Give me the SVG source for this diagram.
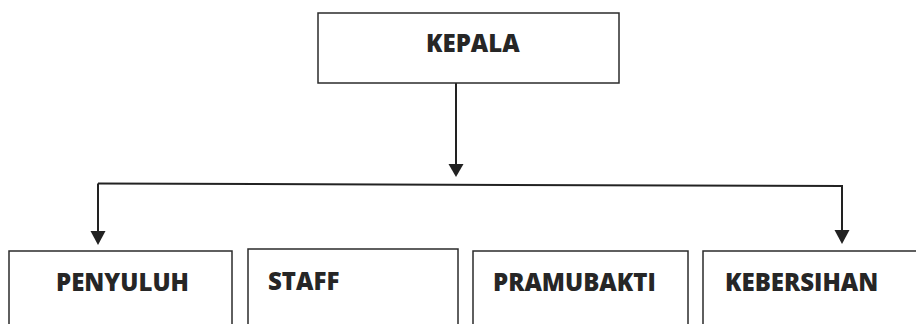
<svg xmlns="http://www.w3.org/2000/svg" width="916" height="324" viewBox="0 0 916 324">
<defs>
<style>
.box{fill:#fff;stroke:#2b2b2b;stroke-width:1.5}
.lbl{font-family:"Open Sans","Liberation Sans",sans-serif;font-weight:800;font-size:24px;fill:#262626}
.con{fill:none;stroke:#222;stroke-width:2}
</style>
</defs>
<rect width="916" height="324" fill="#fff"/>
<g id="connectors">
<path class="con" d="M456,83 V170"/>
<path d="M448.5,164 L463.5,164 L456,177 Z" fill="#222"/>
<path class="con" d="M98,183.5 L843,186"/>
<path class="con" d="M98,183.5 V238"/>
<path d="M90.5,231 L105.5,231 L98,245 Z" fill="#222"/>
<path class="con" d="M842,186 V237"/>
<path d="M834.5,230 L849.5,230 L842,244 Z" fill="#222"/>
</g>
<g id="kepala">
<rect class="box" x="318" y="13" width="301" height="70"/>
<text class="lbl" x="426" y="52">KEPALA</text>
</g>
<g id="penyuluh">
<rect class="box" x="9" y="251" width="223" height="90"/>
<text class="lbl" x="56" y="291">PENYULUH</text>
</g>
<g id="staff">
<rect class="box" x="248" y="249" width="210" height="90"/>
<text class="lbl" x="268" y="290">STAFF</text>
</g>
<g id="pramubakti">
<rect class="box" x="473" y="251" width="215" height="90"/>
<text class="lbl" x="493" y="291">PRAMUBAKTI</text>
</g>
<g id="kebersihan">
<rect class="box" x="703" y="251" width="230" height="90"/>
<text class="lbl" x="725" y="291">KEBERSIHAN</text>
</g>
</svg>
